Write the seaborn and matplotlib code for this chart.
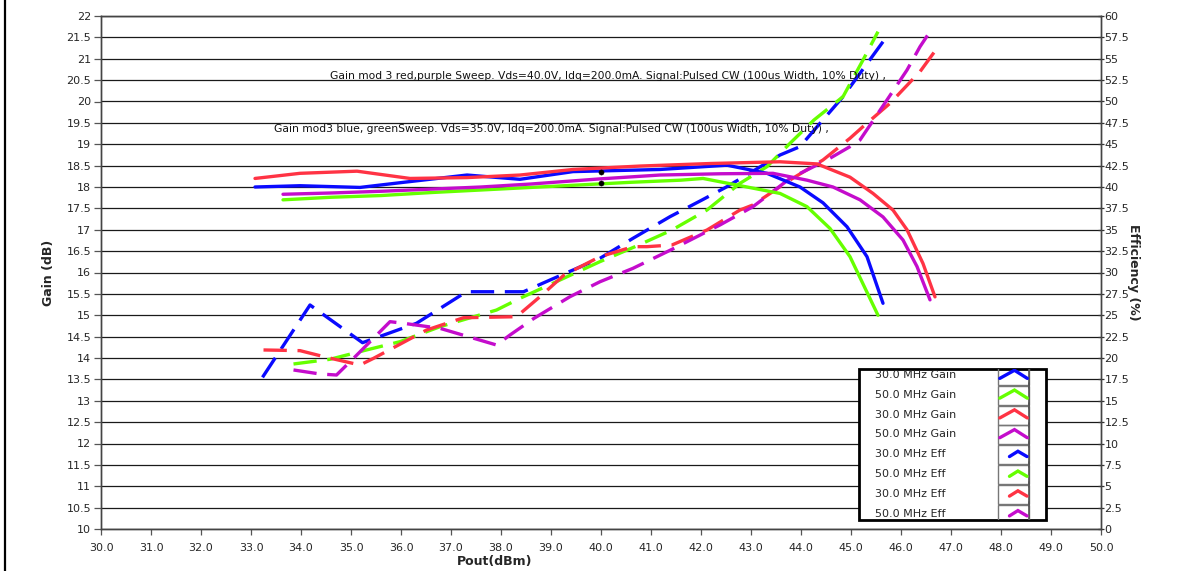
import numpy as np
import pandas as pd
import matplotlib
matplotlib.use("Agg")
import matplotlib.pyplot as plt
import seaborn as sns
from matplotlib.lines import Line2D
from matplotlib.patches import Rectangle
from matplotlib.legend_handler import HandlerBase
from matplotlib.offsetbox import HPacker, DrawingArea
from matplotlib.ticker import MultipleLocator, FuncFormatter

# ---------------- data ----------------
blue_gain_x = [33.08, 33.98, 35.18, 35.98, 37.32, 38.38, 39.44, 41.18, 42.52, 43.32, 43.98, 44.44, 44.92, 45.32, 45.64]
blue_gain_y = [18.00, 18.03, 17.99, 18.10, 18.28, 18.18, 18.36, 18.41, 18.51, 18.32, 18.00, 17.63, 17.07, 16.37, 15.28]

green_gain_x = [33.64, 34.6, 35.6, 36.6, 37.6, 38.6, 39.6, 40.6, 41.6, 42.04, 42.92, 43.58, 44.12, 44.58, 44.98, 45.54]
green_gain_y = [17.70, 17.76, 17.80, 17.87, 17.93, 17.99, 18.05, 18.11, 18.16, 18.20, 18.00, 17.85, 17.54, 17.03, 16.37, 15.00]

red_gain_x = [33.08, 33.98, 35.12, 36.18, 37.32, 38.38, 39.44, 40.78, 42.2, 43.58, 44.32, 44.98, 45.44, 45.84, 46.12, 46.44, 46.68]
red_gain_y = [18.20, 18.32, 18.37, 18.20, 18.22, 18.28, 18.41, 18.49, 18.55, 18.59, 18.54, 18.23, 17.85, 17.46, 17.00, 16.21, 15.43]

purple_gain_x = [33.64, 34.6, 35.6, 36.6, 37.6, 38.6, 39.98, 41.18, 42.4, 43.44, 44.12, 44.64, 45.18, 45.64, 46.04, 46.32, 46.58]
purple_gain_y = [17.83, 17.86, 17.90, 17.95, 18.00, 18.07, 18.19, 18.28, 18.31, 18.32, 18.16, 18.00, 17.70, 17.30, 16.76, 16.14, 15.36]

blue_eff_x = [33.23, 34.18, 35.23, 36.31, 37.31, 38.45, 38.98, 39.98, 40.64, 41.38, 42.02, 42.52, 43.58, 43.98, 44.38, 44.84, 45.18, 45.64]
blue_eff_y = [17.74, 26.20, 21.79, 24.06, 27.75, 27.75, 29.12, 31.66, 34.00, 36.53, 38.48, 40.04, 43.74, 44.72, 47.45, 50.56, 53.30, 56.99]

green_eff_x = [33.85, 34.58, 35.31, 35.98, 36.78, 37.91, 38.38, 39.98, 40.68, 41.42, 42.12, 42.78, 43.32, 43.78, 44.26, 44.84, 45.24, 45.54]
green_eff_y = [19.30, 19.85, 20.94, 21.91, 23.66, 25.61, 26.98, 31.27, 33.02, 34.97, 37.31, 40.43, 42.38, 45.11, 47.84, 50.56, 54.85, 58.17]

red_eff_x = [33.25, 33.98, 34.51, 35.18, 35.45, 36.51, 37.25, 38.31, 38.78, 39.26, 39.98, 40.64, 40.92, 41.42, 42.12, 42.78, 43.04, 43.78, 44.44, 44.98, 45.24, 45.78, 46.38, 46.72]
red_eff_y = [20.94, 20.86, 20.08, 19.18, 19.96, 23.27, 24.71, 24.83, 27.17, 29.70, 31.85, 33.02, 33.02, 33.22, 34.97, 37.31, 37.90, 40.82, 43.16, 45.70, 47.06, 49.79, 53.49, 56.22]

purple_eff_x = [33.85, 34.38, 34.71, 35.05, 35.78, 36.05, 36.78, 37.91, 38.18, 38.66, 39.38, 39.98, 40.64, 41.42, 42.38, 43.04, 43.78, 44.52, 44.98, 45.18, 45.72, 46.12, 46.38, 46.58]
purple_eff_y = [18.60, 18.13, 18.01, 19.96, 24.25, 24.06, 23.47, 21.52, 22.69, 24.64, 27.17, 28.92, 30.49, 32.71, 35.56, 37.70, 41.00, 43.16, 44.72, 45.50, 50.18, 53.68, 56.41, 58.17]

cursor_x = [40.0, 40.0]
cursor_y = [18.35, 18.09]

legend_labels = ["30.0 MHz Gain", "50.0 MHz Gain", "30.0 MHz Gain", "50.0 MHz Gain",
                 "30.0 MHz Eff", "50.0 MHz Eff", "30.0 MHz Eff", "50.0 MHz Eff"]

note_red = "Gain mod 3 red,purple Sweep. Vds=40.0V, Idq=200.0mA. Signal:Pulsed CW (100us Width, 10% Duty) ,"
note_blue = "Gain mod3 blue, greenSweep. Vds=35.0V, Idq=200.0mA. Signal:Pulsed CW (100us Width, 10% Duty) ,"

BLUE, GREEN, RED, PURPLE = "#0a0aff", "#66ff00", "#ff3344", "#c40ccc"

# ---------------- style ----------------
sns.set_theme(style="white")
plt.rcParams["font.family"] = ["DejaVu Sans"]

fig = plt.figure(figsize=(11.85, 5.71), dpi=100)
W, H = 1185, 571
ax = fig.add_axes([101 / W, (H - 529) / H, 1000 / W, 513 / H])
ax2 = ax.twinx()

# eff axis behind, gain axis on top (transparent)
ax.set_zorder(ax2.get_zorder() + 1)
ax.patch.set_visible(False)
ax2.patch.set_visible(True)
ax2.patch.set_facecolor("white")

dash = (0, (7, 3.2))
lw = 2.4

def df(x, y):
    return pd.DataFrame({"x": x, "y": y})

for x, y, c in [(blue_eff_x, blue_eff_y, BLUE), (green_eff_x, green_eff_y, GREEN),
                (red_eff_x, red_eff_y, RED), (purple_eff_x, purple_eff_y, PURPLE)]:
    sns.lineplot(data=df(x, y), x="x", y="y", ax=ax2, color=c, lw=lw, sort=False,
                 estimator=None, linestyle=dash)

for x, y, c in [(blue_gain_x, blue_gain_y, BLUE), (green_gain_x, green_gain_y, GREEN),
                (red_gain_x, red_gain_y, RED), (purple_gain_x, purple_gain_y, PURPLE)]:
    sns.lineplot(data=df(x, y), x="x", y="y", ax=ax, color=c, lw=lw, sort=False, estimator=None)

sns.scatterplot(x=cursor_x, y=cursor_y, ax=ax, color="black", s=14, edgecolor="black", zorder=10)

# ---------------- axes ----------------
ax.set_xlim(30, 50)
ax.set_ylim(10, 22)
ax2.set_ylim(0, 60)
ax.xaxis.set_major_locator(MultipleLocator(1))
ax.yaxis.set_major_locator(MultipleLocator(0.5))
ax2.yaxis.set_major_locator(MultipleLocator(2.5))
ax.xaxis.set_major_formatter(FuncFormatter(lambda v, p: f"{v:.1f}"))
ax.yaxis.set_major_formatter(FuncFormatter(lambda v, p: f"{v:g}"))
ax2.yaxis.set_major_formatter(FuncFormatter(lambda v, p: f"{v:g}"))

ax2.grid(True, which="major", axis="both", color="#1a1a1a", lw=0.9)
ax.grid(False)

ax.tick_params(axis="y", direction="out", length=5, width=0.9, color="#555555",
               labelsize=8, pad=2, left=True)
ax.tick_params(axis="x", direction="out", length=4, width=0.9, color="#555555",
               labelsize=8, pad=6, bottom=True)
ax2.tick_params(axis="y", direction="inout", length=5, width=0.9, color="#333333",
                labelsize=8, pad=0, right=True)

for a in (ax, ax2):
    for s in a.spines.values():
        s.set_color("#444444")
        s.set_linewidth(1.0)

ax.set_xlabel("Pout(dBm)", fontsize=9, fontweight="bold")
ax.xaxis.set_label_coords(0.394, -0.05)
ax.set_ylabel("Gain (dB)", fontsize=9, fontweight="bold")
ax.yaxis.set_label_coords(-0.046, 0.5)
ax2.set_ylabel("Efficiency (%)", fontsize=9, fontweight="bold", rotation=270)
ax2.yaxis.set_label_coords(1.039, 0.5)

ax.text(34.58, 20.6, note_red, fontsize=7.75, ha="left", va="center", color="#111111")
ax.text(33.46, 19.35, note_blue, fontsize=7.75, ha="left", va="center", color="#111111")

# ---------------- legend ----------------
class ChevronHandler(HandlerBase):
    def __init__(self, small):
        super().__init__()
        self.small = small

    def create_artists(self, legend, orig_handle, xdescent, ydescent, width, height, fontsize, trans):
        x0 = -xdescent
        y0 = -ydescent
        bw = width * 0.67
        pitch = fontsize * 1.7
        ymid = y0 + height / 2 - 0.12 * fontsize
        arts = []
        arts.append(Rectangle((x0, ymid - pitch / 2), bw, pitch, facecolor="none",
                              edgecolor="#777777", lw=1.0, transform=trans))
        arts.append(Line2D([x0 + bw, x0 + bw], [ymid - pitch / 2 - 2, ymid + pitch / 2 + 2],
                           color="#555555", lw=1.2, transform=trans))
        if self.small:
            xs = [x0 + bw * 0.36, x0 + bw * 0.63, x0 + bw * 0.92]
            ys = [ymid - pitch * 0.1, ymid + pitch * 0.18, ymid - pitch * 0.1]
        else:
            xs = [x0 + bw * 0.05, x0 + bw * 0.52, x0 + bw * 0.93]
            ys = [ymid - pitch * 0.15, ymid + pitch * 0.28, ymid - pitch * 0.15]
        arts.append(Line2D(xs, ys, color=orig_handle.get_color(), lw=2.4,
                           solid_joinstyle="miter", transform=trans))
        for a in arts:
            a.set_clip_path(legend.legendPatch)
        return arts

colors = [BLUE, GREEN, RED, PURPLE] * 2
handles = [Line2D([], [], color=c) for c in colors]
hmap = {h: ChevronHandler(i >= 4) for i, h in enumerate(handles)}
base_sep = 3.75
leg = ax.legend(handles, legend_labels, handler_map=hmap,
                markerfirst=False, loc="upper right",
                bbox_to_anchor=((1046 - 101) / 1000, (529 - 369) / 513),
                fontsize=8, frameon=True, fancybox=False, borderpad=0.1,
                borderaxespad=0, handlelength=4.2, handletextpad=base_sep,
                labelspacing=0.88, handleheight=0.7)
leg.get_frame().set_edgecolor("black")
leg.get_frame().set_linewidth(2.0)
leg.get_frame().set_facecolor("white")
leg.get_frame().set_alpha(1)

# left-align label texts by equalising the text/handle gap per row, plus a left margin
fig.canvas.draw()
renderer = fig.canvas.get_renderer()
px_per_pt = fig.dpi / 72.0
widths = [t.get_window_extent(renderer).width / px_per_pt for t in leg.texts]
maxw = max(widths)
left_margin = 11.0  # points
for col in leg._legend_handle_box.get_children():
    for item, w in zip(col.get_children(), widths):
        kids = item.get_children()
        textbox = kids[0]
        spacer = DrawingArea(left_margin, 0.1)
        kids[0] = HPacker(pad=0, sep=0, align="baseline", children=[spacer, textbox])
        item.sep = base_sep * 8 + (maxw - w)

fig.add_artist(Line2D([4.5 / W, 4.5 / W], [0, 1], color="black", lw=1.6, transform=fig.transFigure))

fig.savefig("out.png", dpi=100)
